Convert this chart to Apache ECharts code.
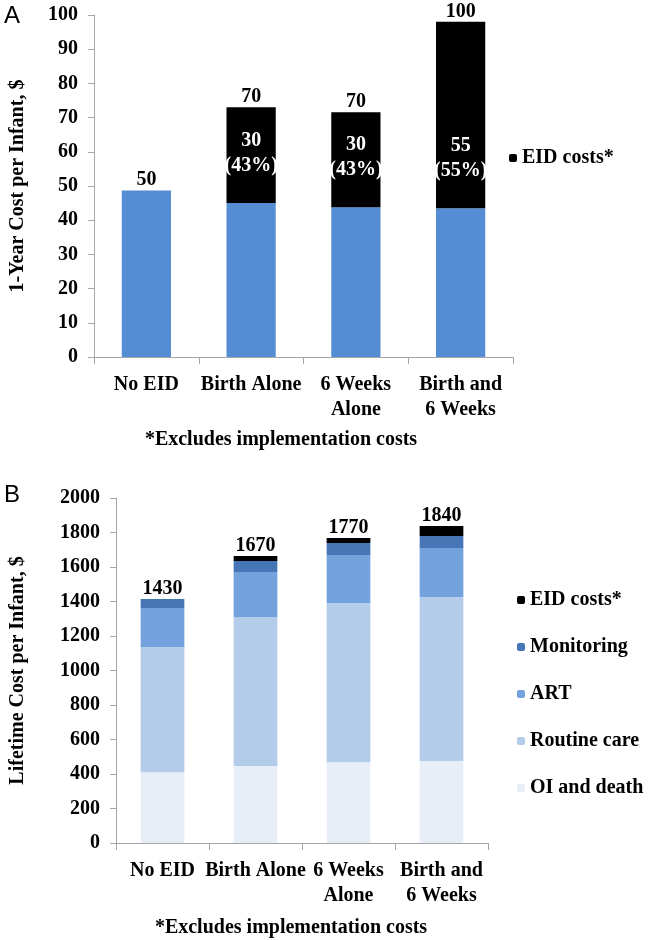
<!DOCTYPE html>
<html>
<head>
<meta charset="utf-8">
<script src="https://cdn.jsdelivr.net/npm/echarts@6/dist/echarts.min.js"></script>
<style>
  html, body { margin: 0; padding: 0; background: #fff; }
  #chart { width: 650px; height: 940px; }
</style>
</head>
<body>
<div id="chart"></div>
<script>
// categories shared by both panels
const categories = ['No EID', 'Birth Alone', '6 Weeks\nAlone', 'Birth and\n6 Weeks'];

// panel A: 1-year cost per infant
const oneYearBase = [48.7, 45, 43.8, 43.5];
const oneYearEid = [0, 28, 27.8, 54.5];
const oneYearTotalLabels = ['50', '70', '70', '100'];
const oneYearEidLabels = ['', '30\n(43%)', '30\n(43%)', '55\n(55%)'];

// panel B: lifetime cost per infant
const lifetimeOi = [410, 446, 468, 475];
const lifetimeRoutine = [726, 864, 923, 951];
const lifetimeArt = [226, 261, 279, 284];
const lifetimeMonitoring = [52, 64, 69, 70];
const lifetimeEid = [0, 29, 29, 58];
const lifetimeTotalLabels = ['1430', '1670', '1770', '1840'];

const serif = '"Liberation Serif", "Times New Roman", serif';
const axisColor = '#a6a6a6';

function sum(arrays) {
    return arrays[0].map((v, i) => arrays.reduce((s, a) => s + a[i], 0));
}

const oneYearTotals = sum([oneYearBase, oneYearEid]);
const lifetimeTotals = sum([lifetimeOi, lifetimeRoutine, lifetimeArt, lifetimeMonitoring, lifetimeEid]);

const txt = { fontFamily: serif, fontWeight: 'bold', fontSize: 20, color: '#000' };

function xAxis(gridIndex) {
    return {
        type: 'category',
        gridIndex: gridIndex,
        data: categories,
        axisLine: { lineStyle: { color: axisColor } },
        axisTick: { show: true, length: 7, lineStyle: { color: axisColor } },
        axisLabel: Object.assign({}, txt, { interval: 0, margin: 15, lineHeight: 25 })
    };
}

function yAxis(gridIndex, max, interval, name, nameGap) {
    return {
        type: 'value',
        gridIndex: gridIndex,
        min: 0,
        max: max,
        interval: interval,
        name: name,
        nameLocation: 'middle',
        nameGap: nameGap,
        nameTextStyle: txt,
        splitLine: { show: false },
        axisLine: { show: true, lineStyle: { color: axisColor } },
        axisTick: { show: true, length: 6, lineStyle: { color: axisColor } },
        axisLabel: Object.assign({}, txt, { margin: 16, formatter: v => String(v) })
    };
}

function totalSeries(xi, totals, labels) {
    return {
        type: 'scatter',
        xAxisIndex: xi,
        yAxisIndex: xi,
        data: totals,
        symbolSize: 1,
        itemStyle: { color: 'rgba(0,0,0,0)', opacity: 1 },
        silent: true,
        label: Object.assign({}, txt, {
            show: true,
            position: 'top',
            distance: 0,
            formatter: p => labels[p.dataIndex]
        })
    };
}

function stackBar(xi, stack, name, data, color, barWidth) {
    return {
        name: name,
        type: 'bar',
        xAxisIndex: xi,
        yAxisIndex: xi,
        stack: stack,
        barWidth: barWidth,
        data: data,
        itemStyle: { color: color }
    };
}

const chart = echarts.init(document.getElementById('chart'));
const eidA = stackBar(0, 'a', 'EID costs*', oneYearEid, '#000000', '47%');
eidA.label = Object.assign({}, txt, {
    show: true,
    color: '#fff',
    position: 'insideBottom',
    distance: 25,
    lineHeight: 25,
    formatter: p => oneYearEidLabels[p.dataIndex]
});

chart.setOption({
    backgroundColor: '#fff',
    animation: false,
    grid: [
        { left: 84, top: 15, width: 429, height: 342 },
        { left: 107, top: 498, width: 381, height: 345 }
    ],
    xAxis: [xAxis(0), xAxis(1)],
    yAxis: [
        yAxis(0, 100, 10, '1-Year Cost per Infant, $', 66),
        yAxis(1, 2000, 200, 'Lifetime Cost per Infant, $', 88)
    ],
    legend: [
        {
            data: ['EID costs*'],
            left: 509,
            top: 148,
            padding: 0,
            itemWidth: 8,
            itemHeight: 8,
            textStyle: Object.assign({}, txt, { lineHeight: 20 })
        },
        {
            data: ['EID costs*', 'Monitoring', 'ART', 'Routine care', 'OI and death'],
            orient: 'vertical',
            left: 517,
            top: 590,
            padding: 0,
            itemGap: 27,
            itemWidth: 8,
            itemHeight: 8,
            textStyle: Object.assign({}, txt, { lineHeight: 20 })
        }
    ],
    graphic: [
        { type: 'text', left: 4, top: 4, style: { text: 'A', fontFamily: '"Liberation Sans", Arial, sans-serif', fontSize: 24, fill: '#000' } },
        { type: 'text', left: 4, top: 483, style: { text: 'B', fontFamily: '"Liberation Sans", Arial, sans-serif', fontSize: 24, fill: '#000' } },
        { type: 'text', x: 281, y: 440, style: { text: '*Excludes implementation costs', font: 'bold 20px ' + serif, fill: '#000', align: 'center', verticalAlign: 'middle' } },
        { type: 'text', x: 291, y: 928, style: { text: '*Excludes implementation costs', font: 'bold 20px ' + serif, fill: '#000', align: 'center', verticalAlign: 'middle' } }
    ],
    series: [
        stackBar(0, 'a', 'base', oneYearBase, '#548dd4', '47%'),
        eidA,
        totalSeries(0, oneYearTotals, oneYearTotalLabels),
        stackBar(1, 'b', 'OI and death', lifetimeOi, '#e8eef8', '47%'),
        stackBar(1, 'b', 'Routine care', lifetimeRoutine, '#b3cce9', '47%'),
        stackBar(1, 'b', 'ART', lifetimeArt, '#73a2dc', '47%'),
        stackBar(1, 'b', 'Monitoring', lifetimeMonitoring, '#4676b6', '47%'),
        stackBar(1, 'b', 'EID costs*', lifetimeEid, '#000000', '47%'),
        totalSeries(1, lifetimeTotals, lifetimeTotalLabels)
    ]
});
</script>
</body>
</html>
